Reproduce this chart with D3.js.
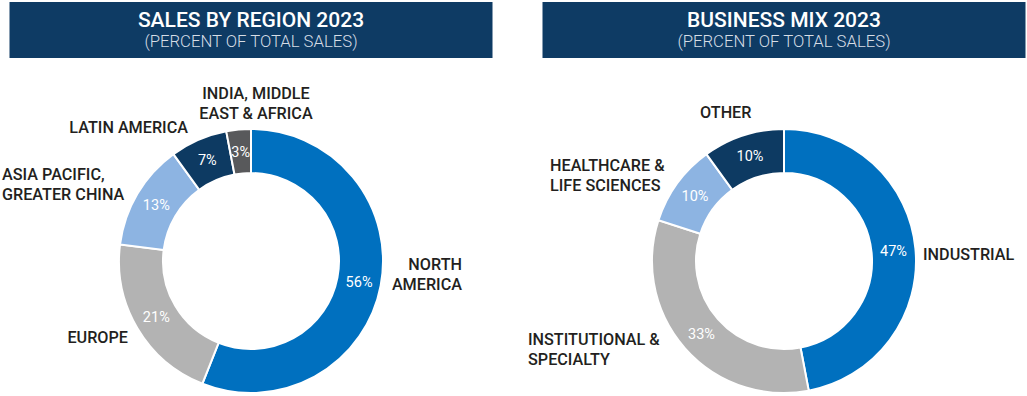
<!DOCTYPE html>
<html>
<head>
<meta charset="utf-8">
<script src="https://cdn.jsdelivr.net/npm/d3@7"></script>
<style>
  html, body { margin: 0; padding: 0; background: #fff; }
  svg { display: block; font-family: Roboto, "Noto Sans", sans-serif; }
</style>
</head>
<body>
<svg id="chart" width="1027" height="396"></svg>
<script>
// Sales by region 2023
const regionLabels = [["NORTH", "AMERICA"], ["EUROPE"], ["ASIA PACIFIC,", "GREATER CHINA"], ["LATIN AMERICA"], ["INDIA, MIDDLE", "EAST & AFRICA"]];
const regionValues = [56, 21, 13, 7, 3];

// Business mix 2023
const mixLabels = [["INDUSTRIAL"], ["INSTITUTIONAL &", "SPECIALTY"], ["HEALTHCARE &", "LIFE SCIENCES"], ["OTHER"]];
const mixValues = [47, 33, 10, 10];

const regionColors = ["#0070bf", "#b3b3b3", "#8db4e2", "#0d3a62", "#58595b"];
const mixColors = ["#0070bf", "#b3b3b3", "#8db4e2", "#0d3a62"];

// hand placed outside labels: [dx, dy, anchor] from donut centre
const regionLabelPos = [[211, 9, "end"], [-123, 82, "end"], [-249, -81, "start"], [-63, -128, "end"], [5, -162, "middle"]];
const mixLabelPos = [[139, -1, "start"], [-256, 84, "start"], [-234, -90, "start"], [-84, -143, "start"]];

const svg = d3.select("#chart");

function drawDonut(opts) {
    const g = svg.append("g");

    // header bar
    g.append("rect")
        .attr("x", opts.cx - 241.5).attr("y", 2)
        .attr("width", 483).attr("height", 56)
        .attr("fill", "#0e3b64");
    g.append("text")
        .attr("x", opts.cx).attr("y", 27)
        .attr("text-anchor", "middle")
        .attr("fill", "#fff")
        .style("font-size", "21px").style("font-weight", 500)
        .text(opts.title);
    g.append("text")
        .attr("x", opts.cx).attr("y", 47)
        .attr("text-anchor", "middle")
        .attr("fill", "#d6dde6")
        .style("font-size", "16.7px").style("font-weight", 300)
        .text("(PERCENT OF TOTAL SALES)");

    const data = opts.values.map((v, i) => ({ value: v, label: opts.labels[i], color: opts.colors[i], pos: opts.pos[i] }));

    const pie = d3.pie().sort(null).value(d => d.value);
    const arc = d3.arc().innerRadius(88).outerRadius(132);
    const arcs = pie(data);

    const ring = g.append("g").attr("transform", `translate(${opts.cx},${opts.cy})`);

    ring.selectAll("path")
        .data(arcs)
        .enter()
        .append("path")
        .attr("d", arc)
        .attr("fill", d => d.data.color)
        .attr("stroke", "#fff")
        .attr("stroke-width", 2);

    // percent inside the ring
    ring.selectAll("text.pct")
        .data(arcs)
        .enter()
        .append("text")
        .attr("class", "pct")
        .attr("transform", d => `translate(${arc.centroid(d)})`)
        .attr("dy", "0.35em")
        .attr("text-anchor", "middle")
        .attr("fill", "#fff")
        .style("font-size", "14.5px")
        .text(d => d.data.value + "%");

    // category labels
    const lab = ring.selectAll("text.lab")
        .data(arcs)
        .enter()
        .append("text")
        .attr("class", "lab")
        .attr("x", d => d.data.pos[0])
        .attr("y", d => d.data.pos[1])
        .attr("text-anchor", d => d.data.pos[2])
        .attr("fill", "#231f20")
        .style("font-size", "16.2px").style("font-weight", 500);

    lab.selectAll("tspan")
        .data(d => d.data.label.map(t => ({ t: t, x: d.data.pos[0] })))
        .enter()
        .append("tspan")
        .attr("x", d => d.x)
        .attr("dy", (d, i) => i === 0 ? 0 : 19.5)
        .text(d => d.t);
}

drawDonut({ cx: 251, cy: 261, title: "SALES BY REGION 2023", values: regionValues, labels: regionLabels, colors: regionColors, pos: regionLabelPos });
drawDonut({ cx: 784, cy: 261, title: "BUSINESS MIX 2023", values: mixValues, labels: mixLabels, colors: mixColors, pos: mixLabelPos });
</script>
</body>
</html>
